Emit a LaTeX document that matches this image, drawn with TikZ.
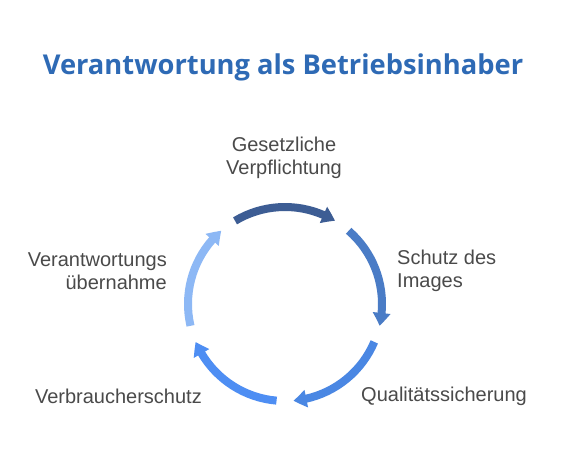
\documentclass[tikz,border=0pt]{standalone}
\usepackage{fontspec}
\setmainfont{Liberation Sans}
\newfontfamily\titlefont{Open Sans}
\usetikzlibrary{arrows.meta,calc,bending}
\definecolor{cA}{HTML}{3D5D94}
\definecolor{cB}{HTML}{4A7CC6}
\definecolor{cC}{HTML}{4A87E3}
\definecolor{cD}{HTML}{4E8EF3}
\definecolor{cE}{HTML}{8DB8F5}
\definecolor{titleblue}{HTML}{2E6AB5}
\definecolor{labelgray}{HTML}{4A4A4A}
\tikzset{
  cyclearc/.style={line width=8pt, -{Triangle[width=17pt,length=13pt,bend]}},
  lbl/.style={text=labelgray, font=\fontsize{20}{23.5}\selectfont, inner sep=0pt},
  ttl/.style={text=titleblue, font=\titlefont\bfseries\fontsize{27.3}{31}\selectfont, inner sep=0pt}
}
\begin{document}
\begin{tikzpicture}[x=1pt,y=1pt]
\useasboundingbox[fill=white] (0,0) rectangle (564,456);
\node[ttl] (title) at (283,389) {Verantwortung als Betriebsinhaber};
\coordinate (c) at (285,152);
\foreach \k in {0,1,2,3,4}{
  \pgfmathsetmacro\sa{121-72*\k}
  \coordinate (s\k) at ($(c)+(\sa:97)$);
}
\foreach \k/\col in {0/cA,1/cB,2/cC,3/cD,4/cE}{
  \pgfmathsetmacro\sa{121-72*\k}
  \pgfmathsetmacro\ea{59-72*\k}
  \draw[cyclearc, draw=\col] (s\k) arc[start angle=\sa, end angle=\ea, radius=97];
}
\node[lbl, align=center] (n1) at (284,298) {Gesetzliche\\Verpflichtung};
\node[lbl, align=left, anchor=west] (n2) at (397,185) {Schutz des\\Images};
\node[lbl, anchor=west] (n3) at (361,60) {Qualitätssicherung};
\node[lbl, anchor=east] (n4) at (202,60) {Verbraucherschutz};
\node[lbl, align=right, anchor=east] (n5) at (167,185) {Verantwortungs\\übernahme};
\end{tikzpicture}
\end{document}
